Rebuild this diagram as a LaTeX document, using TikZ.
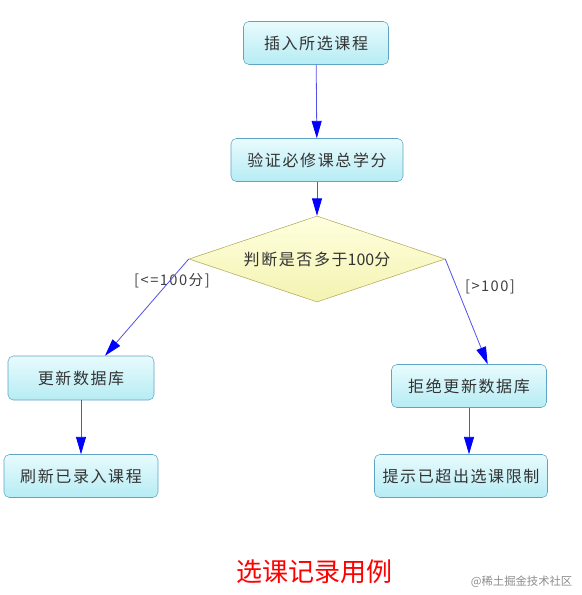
\documentclass[tikz,border=0pt]{standalone}
\usepackage{fontspec}
\usepackage{xcolor}
\newfontfamily\cjk[LetterSpace=10]{Noto Sans CJK SC}
\newfontfamily\cjkplain{Noto Sans CJK SC}
\usetikzlibrary{arrows.meta,shapes.geometric}

\definecolor{boxtop}{RGB}{232,251,253}
\definecolor{boxbot}{RGB}{182,236,244}
\definecolor{boxline}{RGB}{95,165,195}
\definecolor{dectop}{RGB}{255,255,222}
\definecolor{decbot}{RGB}{243,243,178}
\definecolor{decline}{RGB}{178,168,88}
\definecolor{flow}{RGB}{80,80,235}

\begin{document}
\begin{tikzpicture}[x = 0.75pt, y = -0.75pt, >={Triangle[length=13pt, width=7.5pt, color=blue]}, font = \cjk\fontsize{12}{14}\selectfont, text = black!80]
	\tikzstyle{task} = [rectangle, rounded corners = 4pt, draw = boxline, top color = boxtop, bottom color = boxbot, minimum height = 32.25pt, inner sep = 2pt]
	\tikzstyle{decide} = [diamond, shape aspect = 3, draw = decline, top color = dectop, bottom color = decbot, minimum width = 192pt, minimum height = 64.5pt, inner sep = 0pt]
	\tikzstyle{flowline} = [->, draw = flow, semithick]
	\tikzstyle{guard} = [font = \cjk\fontsize{11}{13}\selectfont, text = black!75]
    \useasboundingbox (0,0) rectangle (581,595);
	    \node [task, minimum width = 108.75pt] (insert) at (316,43) {插入所选课程};
	    \node [task, minimum width = 129pt] (verify) at (317,160) {验证必修课总学分};
      \node [decide] (check) at (317,259) {判断是否多于{\cjkplain 100}分};
      \node [task, minimum width = 109.5pt, minimum height = 33pt] (update) at (81,378) {更新数据库};
      \node [task, minimum width = 115.5pt] (refresh) at (81,476) {刷新已录入课程};
      \node [task, minimum width = 116.25pt] (reject) at (469,386) {拒绝更新数据库};
      \node [task, minimum width = 129.75pt] (notice) at (461,476) {提示已超出选课限制};
      \node [guard] (le) at (172,281) {[<=100分]};
      \node [guard] (gt) at (490,287) {[>100]};
      \node [text = red, font = \cjkplain\fontsize{19.5}{22}\selectfont] (title) at (314,572) {选课记录用例};
      \node [text = black!45, font = \cjkplain\fontsize{8.5}{10}\selectfont, anchor = east] (mark) at (577,582) {@稀土掘金技术社区};
	    \draw [flowline] (insert) -- (verify);
      \draw [flowline] (verify) -- (check);
      \draw [flowline] (check.west) -- ([xshift = 18pt]update.north);
      \draw [flowline] (check.east) -- ([xshift = 14pt]reject.north);
      \draw [flowline] (update) -- (refresh);
      \draw [flowline] (reject) -- (reject |- notice.north);
\end{tikzpicture}
\end{document}
